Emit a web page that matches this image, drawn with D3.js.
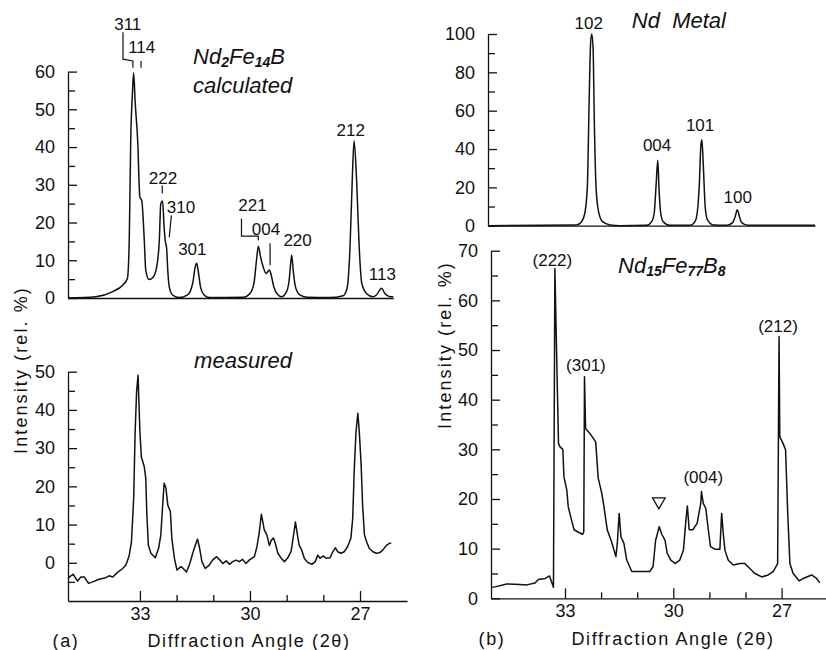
<!DOCTYPE html>
<html><head><meta charset="utf-8">
<script src="https://cdn.jsdelivr.net/npm/d3@7"></script>
<style>
body{margin:0;background:#fff}
svg text{font-family:"Liberation Sans",Arial,sans-serif;fill:#111}
</style>
</head><body>
<svg id="c" width="826" height="650"></svg>
<script>
// ---------- data (angle 2θ, relative intensity %) ----------
const calcData = [[34.96,0],[34.20,0.35],[33.74,1.7],[33.47,3.4],[33.34,5.2],[33.29,15.3],[33.25,41.7],[33.20,54.9],[33.17,59.7],[33.13,52.2],[33.06,41.7],[33.00,26.7],[32.95,25.9],[32.88,15.3],[32.84,7.4],[32.75,4.9],[32.64,5.5],[32.54,8.3],[32.47,15.3],[32.43,25],[32.38,25.7],[32.34,18.8],[32.31,15.3],[32.27,13.1],[32.24,7.4],[32.20,3.0],[32.11,0.8],[31.93,0.1],[31.70,0.8],[31.56,3.9],[31.49,8.3],[31.45,9.2],[31.40,6.5],[31.34,2.6],[31.25,0.8],[31.11,0.1],[30.18,0.2],[30.00,1.2],[29.89,3.9],[29.82,10],[29.77,13.7],[29.71,10.9],[29.64,8.3],[29.56,6.5],[29.47,7.4],[29.42,6.1],[29.35,3.0],[29.23,0.8],[29.14,0.35],[29.00,1.7],[28.93,4.7],[28.88,10],[28.86,11.3],[28.82,7.4],[28.76,3],[28.64,0.8],[28.45,0.2],[27.82,0.1],[27.46,0.6],[27.35,2.6],[27.27,13.5],[27.21,31.1],[27.16,41.7],[27.09,31.1],[27.02,13.5],[26.95,3.9],[26.82,1.2],[26.65,0.35],[26.55,0.8],[26.41,2.6],[26.32,1.2],[26.18,0.35],[26.09,0.3]];

const measuredData = [[34.96,-4.1],[34.88,-3.4],[34.82,-3.0],[34.70,-4.8],[34.61,-3.7],[34.52,-3.7],[34.40,-5.4],[34.29,-5.0],[34.11,-4.3],[33.93,-3.9],[33.84,-3.4],[33.74,-3.7],[33.61,-2.5],[33.47,-1.5],[33.38,-0.6],[33.29,2.0],[33.23,5.5],[33.17,16.9],[33.13,34.3],[33.09,44.8],[33.05,49.1],[33.03,43.0],[33.00,34.3],[32.96,27.7],[32.88,25.1],[32.84,22.1],[32.81,12.5],[32.77,4.6],[32.70,2.5],[32.58,1.3],[32.49,3.8],[32.43,7.3],[32.38,15.1],[32.34,20.8],[32.29,19.5],[32.24,15.1],[32.17,13.4],[32.13,6.4],[32.06,1.2],[31.99,-1.9],[31.88,-1.0],[31.82,-1.5],[31.73,-2.4],[31.64,-0.2],[31.56,2.5],[31.49,4.6],[31.43,6.2],[31.38,4.2],[31.31,0.3],[31.22,-1.5],[31.11,-0.6],[31.02,0.7],[30.91,1.6],[30.82,0.7],[30.74,-0.2],[30.65,0.5],[30.56,-0.4],[30.47,0.3],[30.38,0.7],[30.29,0.3],[30.20,0.9],[30.11,-0.2],[30.02,0.7],[29.88,1.6],[29.81,4.2],[29.75,7.7],[29.69,12.7],[29.65,10.7],[29.61,8.6],[29.54,7.3],[29.47,4.5],[29.42,5.9],[29.36,6.5],[29.31,5.1],[29.24,2.5],[29.15,1.2],[29.06,0.3],[28.97,1.3],[28.88,2.9],[28.82,6.8],[28.76,10.7],[28.72,8.1],[28.66,4.6],[28.59,3.3],[28.52,1.2],[28.43,0.1],[28.31,-0.4],[28.22,0.3],[28.15,2.0],[28.09,1.2],[28.00,1.8],[27.93,1.2],[27.82,1.3],[27.74,2.9],[27.67,3.9],[27.61,2.9],[27.52,2.5],[27.43,2.9],[27.34,4.2],[27.25,6.4],[27.20,11.6],[27.16,23.8],[27.11,34.3],[27.06,39.1],[27.02,34.3],[26.97,25.6],[26.93,15.1],[26.88,7.3],[26.82,5.5],[26.75,3.8],[26.65,2.9],[26.56,2.5],[26.47,2.6],[26.38,3.3],[26.29,4.5],[26.20,5.1],[26.15,5.1]];

const ndMetalData = [[35.13,0],[32.68,0.4],[32.54,2.1],[32.45,6.5],[32.38,20.5],[32.33,65.7],[32.29,95.4],[32.26,100],[32.22,91.8],[32.19,57.0],[32.14,20.5],[32.08,8.3],[31.96,2.1],[31.75,0.4],[31.48,0],[30.74,0.2],[30.60,2.1],[30.53,6.5],[30.48,20.5],[30.43,34.1],[30.40,20.5],[30.35,6.5],[30.28,2.1],[30.09,0.2],[29.54,0.2],[29.40,2.1],[29.33,8.3],[29.28,22.3],[29.24,41.4],[29.21,44.9],[29.17,30.9],[29.12,10.1],[29.06,3.2],[28.89,0.4],[28.52,0.2],[28.36,1.6],[28.29,4.7],[28.23,8.3],[28.17,4.7],[28.11,1.6],[27.93,0.2],[26.08,0.2]];

const ndFeBData = [[35.05,2.2],[34.94,2.3],[34.61,2.9],[34.25,2.8],[34.06,2.7],[33.83,3.1],[33.74,3.8],[33.55,4.0],[33.43,4.5],[33.37,3.3],[33.32,2.2],[33.28,66.4],[33.24,52],[33.18,31.2],[33.14,30.5],[33.06,30.0],[33.03,24.5],[32.95,21.8],[32.91,18.4],[32.82,15.8],[32.75,13.8],[32.63,13.3],[32.51,12.9],[32.48,13.4],[32.46,44.6],[32.43,34.2],[32.31,33.2],[32.15,31.5],[32.08,24.2],[31.98,21.1],[31.92,18.4],[31.83,13.8],[31.71,11.4],[31.59,8.4],[31.55,11.1],[31.50,17.1],[31.45,12.4],[31.37,11.1],[31.29,7.7],[31.15,5.4],[30.65,5.4],[30.56,6.4],[30.49,11.7],[30.39,14.4],[30.32,12.9],[30.23,11.7],[30.17,9.1],[30.07,7.7],[29.95,7.0],[29.82,7.7],[29.72,9.7],[29.65,15.8],[29.61,18.6],[29.56,13.8],[29.46,13.8],[29.34,15.1],[29.24,19.1],[29.22,21.5],[29.17,19.1],[29.10,18.1],[29.03,13.8],[28.97,10.4],[28.85,9.9],[28.71,9.9],[28.66,17.1],[28.62,13.4],[28.57,9.7],[28.48,7.7],[28.34,6.7],[28.16,7.0],[28.02,7.0],[27.88,6.0],[27.74,5.0],[27.55,4.3],[27.37,4.7],[27.23,5.4],[27.11,7.0],[27.09,30.5],[27.07,52.7],[27.05,32.5],[26.96,31.2],[26.89,29.9],[26.83,17.1],[26.77,7.0],[26.68,5.0],[26.51,3.5],[26.40,4.0],[26.17,4.7],[26.03,4.0],[25.94,3.1]];

// tick values
const xMajorTicks = [33, 30, 27];
const xMinorTicks = [32, 31, 29, 28];
const yTicksCalc = d3.range(0, 61, 5);
const yTicksMeas = d3.range(-5, 51, 5);
const yTicksMetal = d3.range(0, 101, 10);
const yTicksNdFeB = d3.range(0, 71, 5);

// peak labels: [text, angle, intensity]
const calcLabels = [["311",33.33,71.0],["114",32.95,64.9],["222",32.37,30.3],["310",31.88,22.4],["301",31.57,11.3],["221",29.93,23.0],["004",29.56,16.6],["220",28.70,13.7],["212",27.25,43.0],["113",26.39,4.7]];
const calcLeaders = [[[33.46,70.4],[33.46,63.3],[33.19,62.8],[33.19,61.0]],[[32.97,62.8],[32.97,61.0]],[[32.39,29.8],[32.39,27.7]],[[32.14,21.9],[32.20,16.1]],[[30.23,21.1],[30.23,16.4],[29.77,16.4],[29.77,15.3]],[[29.45,14.5],[29.45,8.7]]];
const metalLabels = [["102",32.34,102.6],["004",30.45,39.0],["101",29.26,49.4],["100",28.22,11.8]];
const ndfebLabels = [["(222)",33.35,66.9],["(301)",32.42,45.8],["(004)",29.17,23.2],["(212)",27.10,53.6]];

// ---------- drawing ----------
const svg = d3.select("#c");

function panel(o) {
  const g = svg.append("g");
  const x = d3.scaleLinear().domain(o.xDomain).range(o.xRange);
  const y = d3.scaleLinear().domain(o.yDomain).range(o.yRange);
  const y0 = o.yRange[0];
  const xa = g.append("g").attr("transform", `translate(0,${y0})`);
  if (o.xTicks) {
    xa.call(d3.axisBottom(x).tickValues(xMajorTicks).tickSize(-10).tickSizeOuter(0).tickPadding(6).tickFormat(d3.format("d")));
    const xm = g.append("g").attr("transform", `translate(0,${y0})`)
      .call(d3.axisBottom(x).tickValues(xMinorTicks).tickSize(-6).tickSizeOuter(0).tickFormat(""));
    xm.select(".domain").remove();
  } else {
    xa.call(d3.axisBottom(x).tickValues([]).tickSizeOuter(0));
  }
  const ya = g.append("g").attr("transform", `translate(${o.xRange[0]},0)`)
    .call(d3.axisLeft(y).tickValues(o.yTicks).tickSize(-9).tickSizeOuter(0).tickPadding(13)
      .tickFormat(d => (d % o.labelStep === 0 && d >= 0) ? d : ""));
  ya.selectAll(".tick").filter(d => d % o.labelStep !== 0).select("line").attr("x2", 7);
  g.selectAll(".domain, .tick line").attr("stroke", "#111").attr("stroke-width", 1.3);
  g.selectAll(".tick text").attr("font-size", 18).attr("fill", "#222")
    .style("font-family", '"Liberation Sans", Arial, sans-serif');
  g.append("path").datum(o.data)
    .attr("fill", "none").attr("stroke", "#111").attr("stroke-width", 1.5).attr("stroke-linejoin", "round")
    .attr("d", d3.line().x(d => x(d[0])).y(d => y(d[1])).curve(o.curve || d3.curveLinear));
  (o.labels || []).forEach(l => {
    g.append("text").attr("x", x(l[1])).attr("y", y(l[2])).attr("text-anchor", "middle")
      .attr("font-size", 17).text(l[0]);
  });
  (o.leaders || []).forEach(pts => {
    g.append("path").attr("fill", "none").attr("stroke", "#111").attr("stroke-width", 1.2)
      .attr("d", d3.line().x(d => x(d[0])).y(d => y(d[1])).curve(d3.curveLinear)(pts));
  });
  return {g, x, y};
}

function formula(g, xp, yp, parts) {
  const t = g.append("text").attr("x", xp).attr("y", yp).attr("font-size", 22).attr("font-style", "italic");
  parts.forEach(p => {
    if (p[1]) t.append("tspan").attr("font-size", 14).attr("font-weight", "bold").attr("dy", 3).text(p[0]);
    else t.append("tspan").attr("dy", p[2] ? -3 : 0).text(p[0]);
  });
}

// (a) top: calculated
const pA1 = panel({xDomain:[34.96,26.09], xRange:[68,393.3], yDomain:[0,60], yRange:[298,71.6],
  yTicks:yTicksCalc, labelStep:10, data:calcData, curve:d3.curveMonotoneX,
  labels:calcLabels, leaders:calcLeaders});
formula(pA1.g, pA1.x(31.55), pA1.y(62.0), [["Nd"],["2",1],["Fe",0,1],["14",1],["B",0,1]]);
pA1.g.append("text").attr("x", pA1.x(31.55)).attr("y", pA1.y(54.4)).attr("font-size", 22)
  .attr("font-style", "italic").text("calculated");

// (a) bottom: measured
const pA2 = panel({xDomain:[34.96,25.72], xRange:[68,407], yDomain:[-10,50], yRange:[601,371.7],
  yTicks:yTicksMeas, labelStep:10, xTicks:true, data:measuredData});
pA2.g.append("text").attr("x", pA2.x(30.19)).attr("y", pA2.y(51.0)).attr("text-anchor", "middle")
  .attr("font-size", 22).attr("font-style", "italic").text("measured");

// (b) top: Nd metal
const pB1 = panel({xDomain:[35.13,26.08], xRange:[488,815], yDomain:[0,100], yRange:[225.7,34],
  yTicks:yTicksMetal, labelStep:20, data:ndMetalData, curve:d3.curveMonotoneX, labels:metalLabels});
pB1.g.append("text").attr("x", pB1.x(31.15)).attr("y", pB1.y(103.1)).attr("font-size", 22)
  .attr("font-style", "italic").style("white-space", "pre").text("Nd  Metal");

// (b) bottom: Nd15Fe77B8
const pB2 = panel({xDomain:[35.05,25.77], xRange:[491,826], yDomain:[0,70], yRange:[598.3,250.7],
  yTicks:yTicksNdFeB, labelStep:10, xTicks:true, data:ndFeBData, labels:ndfebLabels});
formula(pB2.g, pB2.x(31.53), pB2.y(65.5), [["Nd"],["15",1],["Fe",0,1],["77",1],["B",0,1],["8",1]]);
pB2.g.append("path").attr("d", d3.symbol(d3.symbolTriangle, 70)())
  .attr("transform", `translate(${pB2.x(30.40)},${pB2.y(19.5)}) rotate(180)`)
  .attr("fill", "none").attr("stroke", "#111").attr("stroke-width", 1.3);

// axis titles
const titleStyle = (s, ls) => s.attr("font-size", 18).attr("letter-spacing", ls).attr("fill", "#222");
svg.append("text").attr("transform", "translate(27,370) rotate(-90)").attr("text-anchor", "middle")
  .call(titleStyle, 2.1).text("Intensity (rel. %)");
svg.append("text").attr("transform", "translate(451,345) rotate(-90)").attr("text-anchor", "middle")
  .call(titleStyle, 2.1).text("Intensity (rel. %)");
svg.append("text").attr("x", 249).attr("y", 647).attr("text-anchor", "middle").call(titleStyle, 1.6).text("Diffraction Angle (2θ)");
svg.append("text").attr("x", 673).attr("y", 645).attr("text-anchor", "middle").call(titleStyle, 1.6).text("Diffraction Angle (2θ)");
svg.append("text").attr("x", 66).attr("y", 647).attr("text-anchor", "middle").call(titleStyle, 1.6).text("(a)");
svg.append("text").attr("x", 492).attr("y", 645).attr("text-anchor", "middle").call(titleStyle, 1.6).text("(b)");
</script>
</body></html>
